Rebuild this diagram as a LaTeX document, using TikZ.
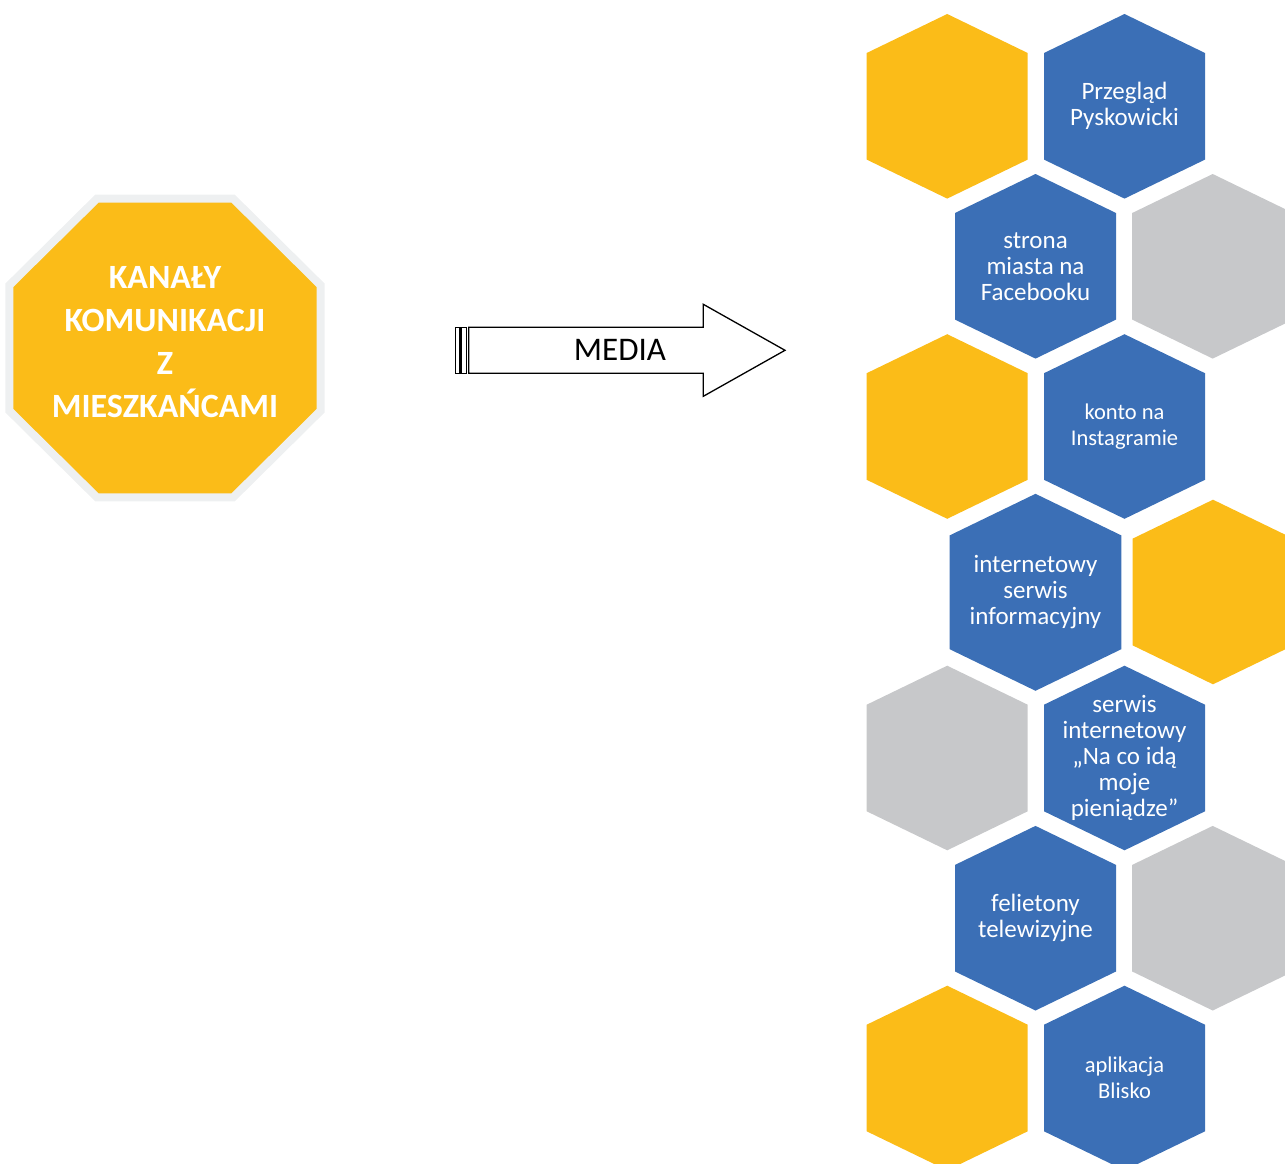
\documentclass[tikz,border=0pt]{standalone}
\usepackage{fontspec}
\setmainfont{Carlito}
\usetikzlibrary{backgrounds}

\definecolor{honey}{HTML}{FBBC18}
\definecolor{cellblue}{HTML}{3B6FB6}
\definecolor{cellgray}{HTML}{C7C8CA}
\definecolor{rimgray}{HTML}{EEF0F1}

\begin{document}
\begin{tikzpicture}[
					x=1pt, y=-1pt,
					cell/.style={text=white, align=center, inner sep=0pt, font=\fontsize{25}{26}\selectfont},
					smallcell/.style={cell, font=\fontsize{22.5}{25.5}\selectfont},
					title/.style={text=white, align=center, inner sep=0pt, font=\bfseries\fontsize{34}{43}\selectfont},
					arrowline/.style={draw=black, fill=white, line width=1.3pt}
					]
					\useasboundingbox (0,0) rectangle (1285,1164);
					
					% Nodes
					\coordinate (Octa) at (165,348);
					\node[title] (Kanaly) at ([yshift=6pt]Octa) {KANAŁY\\KOMUNIKACJI\\Z\\MIESZKAŃCAMI};
					\node[font=\fontsize{33}{36}\selectfont] (Media) at (620,350.3) {MEDIA};
					
					% Hexagon cells
					\coordinate (Y1) at (947.2,106.3);
					\node[cell] (Przeglad) at (1124.5,106.3) {Przegląd\\Pyskowicki};
					\node[cell] (Strona) at (1035.5,266.3) {strona\\miasta na\\Facebooku};
					\coordinate (G1) at (1212.7,266.3);
					\coordinate (Y2) at (947.2,426.5);
					\node[smallcell] (Konto) at (1124.5,426.5) {konto na\\Instagramie};
					\node[cell] (Serwis) at (1035.5,592.3) {internetowy\\serwis\\informacyjny};
					\coordinate (Y3) at (1213,592);
					\coordinate (G2) at (947.2,758);
					\node[cell] (NaCoIda) at (1124.5,758) {serwis\\internetowy\\„Na co idą\\moje\\pieniądze”};
					\node[cell] (Felietony) at (1035.5,918.2) {felietony\\telewizyjne};
					\coordinate (G3) at (1212.7,918.2);
					\coordinate (Y4) at (947.2,1078);
					\node[smallcell] (Aplikacja) at (1124.5,1078) {aplikacja\\Blisko};
					
					% Shapes
					\begin{scope}[on background layer]
						\clip (0,0) rectangle (1285,1164);
						\filldraw[fill=honey, draw=rimgray, line width=8pt, shift={(Octa)}]
						(-68.2,-149.3) -- (68.2,-149.3) -- (155.7,-62.7) -- (155.7,62.7)
						-- (68.2,149.3) -- (-68.2,149.3) -- (-155.7,62.7) -- (-155.7,-62.7) -- cycle;
						\foreach \n/\c/\s in {Y1/honey/1, Przeglad/cellblue/1, Strona/cellblue/1, G1/cellgray/1,
							Y2/honey/1, Konto/cellblue/1, Serwis/cellblue/1.067, Y3/honey/1,
							G2/cellgray/1, NaCoIda/cellblue/1, Felietony/cellblue/1, G3/cellgray/1,
							Y4/honey/1, Aplikacja/cellblue/1}
						\fill[\c, shift={(\n.center)}, scale=\s] (0,-92.3) -- (80.5,-53.3) -- (80.5,53.3)
						-- (0,92.3) -- (-80.5,53.3) -- (-80.5,-53.3) -- cycle;
						% Block arrow
						\draw[arrowline, shift={(Media.center)}] (-151.3,-23) -- (83.3,-23) -- (83.3,-46)
						-- (165,0) -- (83.3,46) -- (83.3,23) -- (-151.3,23) -- cycle;
						\draw[arrowline, shift={(Media.center)}] (-164.3,-23) rectangle (-160,23);
						\draw[arrowline, shift={(Media.center)}] (-158.3,-23) rectangle (-153.3,23);
					\end{scope}
				\end{tikzpicture}
\end{document}
